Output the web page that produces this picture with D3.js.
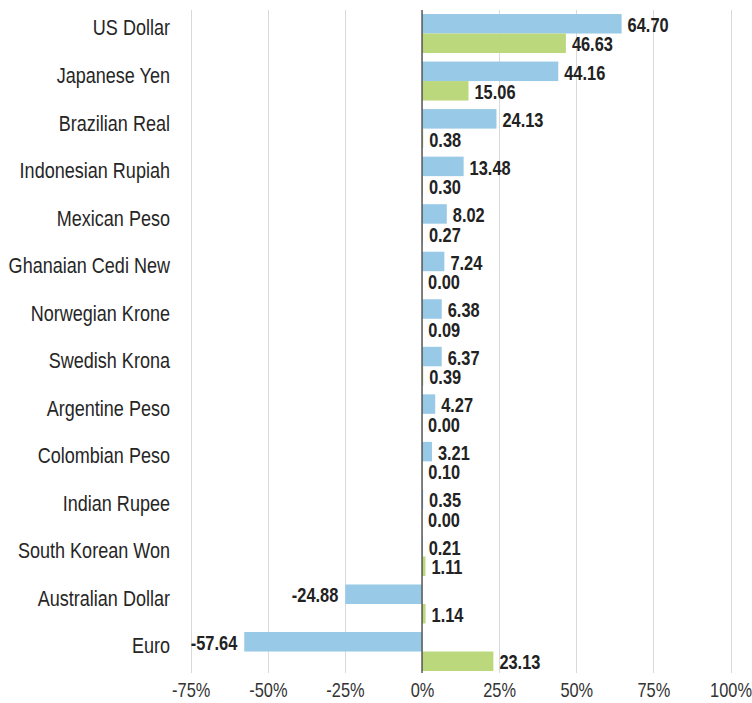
<!DOCTYPE html>
<html>
<head>
	<title>Currency returns : bar chart</title>
	<script src="https://d3js.org/d3.v7.min.js"></script>
	<style type="text/css">
		body { margin: 0; background: #fff; }
		text { font-family: "Liberation Sans", Arial, sans-serif; }
	</style>
</head>
<body>
	<svg width="752" height="703"></svg>

<script type="text/javascript">
	// data
	const currencies = ['US Dollar', 'Japanese Yen', 'Brazilian Real', 'Indonesian Rupiah', 'Mexican Peso',
		'Ghanaian Cedi New', 'Norwegian Krone', 'Swedish Krona', 'Argentine Peso', 'Colombian Peso',
		'Indian Rupee', 'South Korean Won', 'Australian Dollar', 'Euro'];
	const blueValues = [64.70, 44.16, 24.13, 13.48, 8.02, 7.24, 6.38, 6.37, 4.27, 3.21, 0.35, 0.21, -24.88, -57.64];
	const greenValues = [46.63, 15.06, 0.38, 0.30, 0.27, 0.00, 0.09, 0.39, 0.00, 0.10, 0.00, 1.11, 1.14, 23.13];
	const tickValues = [-75, -50, -25, 0, 25, 50, 75, 100];

	const svg = d3.select("svg");
	const colors = { blue: "#98c9e6", green: "#bcd87d" };
	const squeeze = 0.82; // no narrow font installed, so squeeze text horizontally

	const xscale = d3.scaleLinear().domain([-75, 100]).range([190.7, 730.5]);
	const yscale = d3.scaleBand().domain(currencies).range([9.75, 675.3])
		.paddingInner(0.18).paddingOuter(0.09);
	const barH = yscale.bandwidth() / 2;

	// grid lines
	svg.append("g").selectAll("line")
		.data(tickValues.filter(d => d !== 0))
		.enter().append("line")
		.attr("x1", d => Math.round(xscale(d)) + 0.5).attr("x2", d => Math.round(xscale(d)) + 0.5)
		.attr("y1", 10).attr("y2", 673)
		.attr("stroke", "#d9d9d9").attr("stroke-width", 1);

	const series = [
		{ values: blueValues, color: colors.blue, offset: 0 },
		{ values: greenValues, color: colors.green, offset: barH }
	];

	series.forEach(s => {
		svg.append("g").selectAll("rect")
			.data(currencies)
			.enter().append("rect")
			.attr("x", (d, i) => xscale(Math.min(0, s.values[i])))
			.attr("y", d => yscale(d) + s.offset)
			.attr("width", (d, i) => Math.abs(xscale(s.values[i]) - xscale(0)))
			.attr("height", barH)
			.attr("fill", s.color);

		svg.append("g").selectAll("text")
			.data(currencies)
			.enter().append("text")
			.attr("transform", (d, i) => {
				const v = s.values[i];
				const x = v < 0 ? xscale(v) - 7 : xscale(v) + 6;
				const y = yscale(d) + s.offset + barH / 2 + 1;
				return "translate(" + x + "," + y + ") scale(" + squeeze + ",1)";
			})
			.attr("dy", "0.36em")
			.attr("text-anchor", (d, i) => s.values[i] < 0 ? "end" : "start")
			.attr("font-size", "20px")
			.attr("font-weight", "bold")
			.attr("fill", "#222")
			.text((d, i) => s.values[i].toFixed(2));
	});

	// zero line
	svg.append("line")
		.attr("x1", xscale(0)).attr("x2", xscale(0))
		.attr("y1", 10).attr("y2", 673)
		.attr("stroke", "#555").attr("stroke-width", 1.5);

	// category labels
	svg.append("g").selectAll("text")
		.data(currencies)
		.enter().append("text")
		.attr("transform", d => "translate(170," + (yscale(d) + yscale.bandwidth() / 2 - 6) + ") scale(" + squeeze + ",1)")
		.attr("dy", "0.36em")
		.attr("text-anchor", "end")
		.attr("font-size", "22px")
		.attr("fill", "#262626")
		.text(d => d);

	// x axis labels
	const xAxis = d3.axisBottom(xscale).tickValues(tickValues).tickSize(0).tickPadding(0)
		.tickFormat(d => d + "%");
	const axisG = svg.append("g").attr("transform", "translate(0,683)").call(xAxis);
	axisG.select(".domain").remove();
	axisG.selectAll("text")
		.attr("font-size", "20px")
		.attr("fill", "#333")
		.attr("font-family", null)
		.attr("transform", "scale(" + squeeze + ",1)");
</script>
</body>
</html>
